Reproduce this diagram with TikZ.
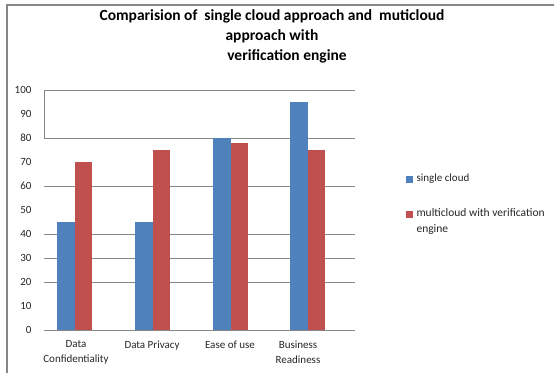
\documentclass[tikz,border=0pt]{standalone}
\usepackage{fontspec}
\setmainfont{Carlito}
\definecolor{singleblue}{HTML}{4F81BD}
\definecolor{multired}{HTML}{C0504D}
\definecolor{gridgray}{HTML}{868686}
\tikzset{
  etichetta/.style={font=\fontsize{11}{15}\selectfont, text=black!85},
  barblu/.style={fill=singleblue},
  barrosso/.style={fill=multired}
}
\begin{document}
\begin{tikzpicture}[x=1pt,y=-1pt]
    \useasboundingbox (0,0) rectangle (555,373);
    % cornice esterna
    \draw[gridgray, line width=1.3pt] (7,373) -- (7,5) -- (554,5);

    % titolo
    \node[font=\bfseries\fontsize{15.5}{20}\selectfont, align=center] (titolo) at (272,36)
        {Comparision of~ single cloud approach and~ muticloud\\approach with\\\hspace*{30pt}verification engine};

    % griglia e asse verticale
    \foreach \v in {20,30,40,60,80,100} \draw[gridgray, line width=0.9pt] (44,{330-2.4*\v}) -- (355,{330-2.4*\v});
    \draw[gridgray, line width=0.9pt] (44,90) -- (44,138);

    % numeri sull'asse
    \foreach \v in {0,10,...,100} \node[etichetta, anchor=east] (t\v) at (35,{330-2.4*\v}) {\v};

    % barre
    \foreach \xs/\vb/\vr in {57/45/70, 135/45/75, 213/80/78, 290/95/75} {
        \fill[barblu] (\xs,330) rectangle ({\xs+17.5},{330-2.4*\vb});
        \fill[barrosso] ({\xs+17.5},330) rectangle ({\xs+34.5},{330-2.4*\vr});
    }
    \draw[gridgray, line width=0.9pt] (44,330) -- (355,330);

    % categorie
    \node[etichetta, align=center, anchor=north] (c1) at (76,337) {Data\\Confidentiality};
    \node[etichetta, anchor=north] (c2) at (152,337) {Data Privacy};
    \node[etichetta, anchor=north] (c3) at (230,337) {Ease of use};
    \node[etichetta, align=center, anchor=north] (c4) at (298,337) {Business\\Readiness};

    % legenda
    \fill[barblu] (406,175.5) rectangle (413,182.5);
    \node[etichetta, anchor=west] (l1) at (413,179) {single cloud};
    \fill[barrosso] (406,210.5) rectangle (413,217.5);
    \node[etichetta, anchor=north west, align=left, font=\fontsize{11.5}{16}\selectfont] (l2) at (413,205)
        {multicloud with verification\\engine};
\end{tikzpicture}
\end{document}
